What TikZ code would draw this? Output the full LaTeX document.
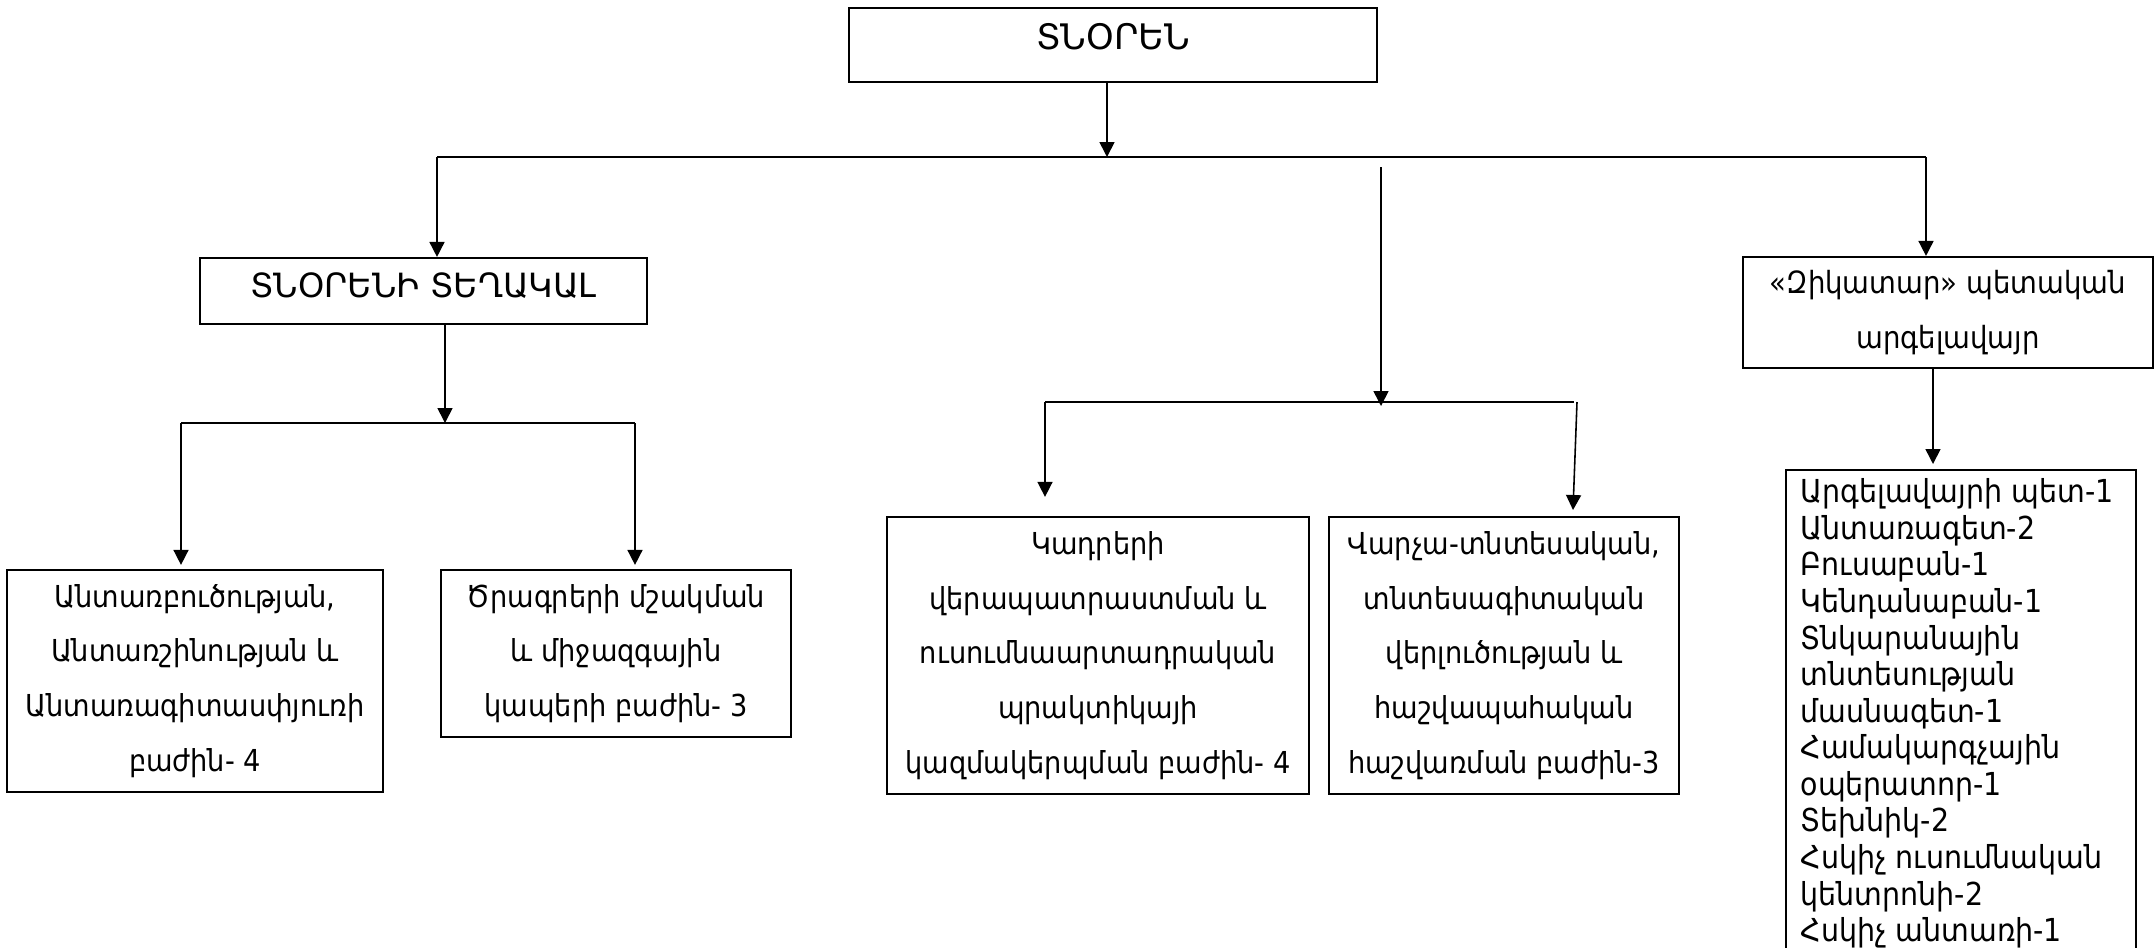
\documentclass[tikz,border=0pt]{standalone}
\usepackage{fontspec}
\setmainfont{DejaVu Sans}
\newfontfamily\narrowarm[FakeStretch=0.9]{DejaVu Sans}
\usetikzlibrary{arrows.meta}

\begin{document}
\begin{tikzpicture}[x=0.01cm, y=-0.01cm,
		box/.style={draw, line width=0.6pt, align=center, inner sep=0pt},
		unit/.style={box, font=\narrowarm\fontsize{8.6}{15.6}\selectfont},
		conn/.style={line width=0.45pt, -{Triangle[length=0.15cm, width=0.15cm]}},
		bar/.style={line width=0.6pt}]
			\useasboundingbox (0,0) rectangle (2154,947);
			% top level
			\node[box, minimum width=5.28cm, minimum height=0.74cm, font=\fontsize{10}{12}\selectfont] (dir) at (1113,45) {\raisebox{0.17cm}{ՏՆՕՐԵՆ}};
			\node[box, minimum width=4.47cm, minimum height=0.66cm, font=\fontsize{9.5}{12}\selectfont] (dep) at (423.5,291) {\raisebox{0.12cm}{ՏՆՕՐԵՆԻ ՏԵՂԱԿԱԼ}};
			\node[box, minimum width=4.10cm, minimum height=1.11cm, font=\narrowarm\fontsize{8.7}{15.6}\selectfont] (zik) at (1948,312.5) {\raisebox{0.06cm}{\parbox{4cm}{\centering «Զիկատար» պետական\\ արգելավայր}}};
			% departments
			\node[unit, minimum width=3.76cm, minimum height=2.22cm] (forest) at (195,681) {\raisebox{0.04cm}{\parbox{3.7cm}{\centering Անտառբուծության,\\ Անտառշինության և\\ Անտառագիտասփյուռի\\ բաժին- 4}}};
			\node[unit, minimum width=3.50cm, minimum height=1.67cm] (prog) at (616,653.5) {Ծրագրերի մշակման\\ և միջազգային\\ կապերի բաժին- 3};
			\node[unit, minimum width=4.22cm, minimum height=2.77cm] (kadr) at (1098,655.5) {Կադրերի\\ վերապատրաստման և\\ ուսումնաարտադրական\\ պրակտիկայի\\ կազմակերպման բաժին- 4};
			\node[unit, minimum width=3.50cm, minimum height=2.77cm] (varch) at (1504,655.5) {Վարչա-տնտեսական,\\ տնտեսագիտական\\ վերլուծության և\\ հաշվապահական\\ հաշվառման բաժին-3};
			% reserve staff
			\node[box, anchor=north west, minimum width=3.50cm, minimum height=5cm] (list) at (1785,469) {};
			\node[anchor=north west, inner sep=0pt, align=left, font=\narrowarm\fontsize{9}{10.4}\selectfont] (staff) at (1800,478) {Արգելավայրի պետ-1\\ Անտառագետ-2\\ Բուսաբան-1\\ Կենդանաբան-1\\ Տնկարանային\\ տնտեսության\\ մասնագետ-1\\ Համակարգչային\\ օպերատոր-1\\ Տեխնիկ-2\\ Հսկիչ ուսումնական\\ կենտրոնի-2\\ Հսկիչ անտառի-1};
			% connectors
			\coordinate (hub) at (1107,157);
			\coordinate (barL) at (437,157);
			\coordinate (barR) at (1926,157);
			\coordinate (midtop) at (1381,167);
			\coordinate (midhub) at (1381,406);
			\coordinate (midL) at (1045,402);
			\coordinate (midR) at (1574,402);
			\coordinate (slant) at (1577,402);
			\coordinate (slantend) at (1573,510);
			\coordinate (dephub) at (445,423);
			\coordinate (subL) at (181,423);
			\coordinate (subR) at (635,423);
			\coordinate (zikdrop) at (1933,368);
			\draw[conn] (dir.south -| hub) -- (hub);
			\draw[bar] (barL) -- (barR);
			\draw[conn] (barL) -- (barL |- dep.north);
			\draw[conn] (barR) -- (barR |- zik.north);
			\draw[conn] (midtop) -- (midhub);
			\draw[bar] (midL) -- (midR);
			\draw[conn, shorten >=0.19cm] (midL) -- (midL |- kadr.north);
			\draw[conn] (slant) -- (slantend);
			\draw[conn] (dep.south -| dephub) -- (dephub);
			\draw[bar] (subL) -- (subR);
			\draw[conn, shorten >=0.04cm] (subL) -- (subL |- forest.north);
			\draw[conn, shorten >=0.04cm] (subR) -- (subR |- prog.north);
			\draw[conn, shorten >=0.05cm] (zik.south -| zikdrop) -- (zikdrop |- list.north);
		\end{tikzpicture}
\end{document}
